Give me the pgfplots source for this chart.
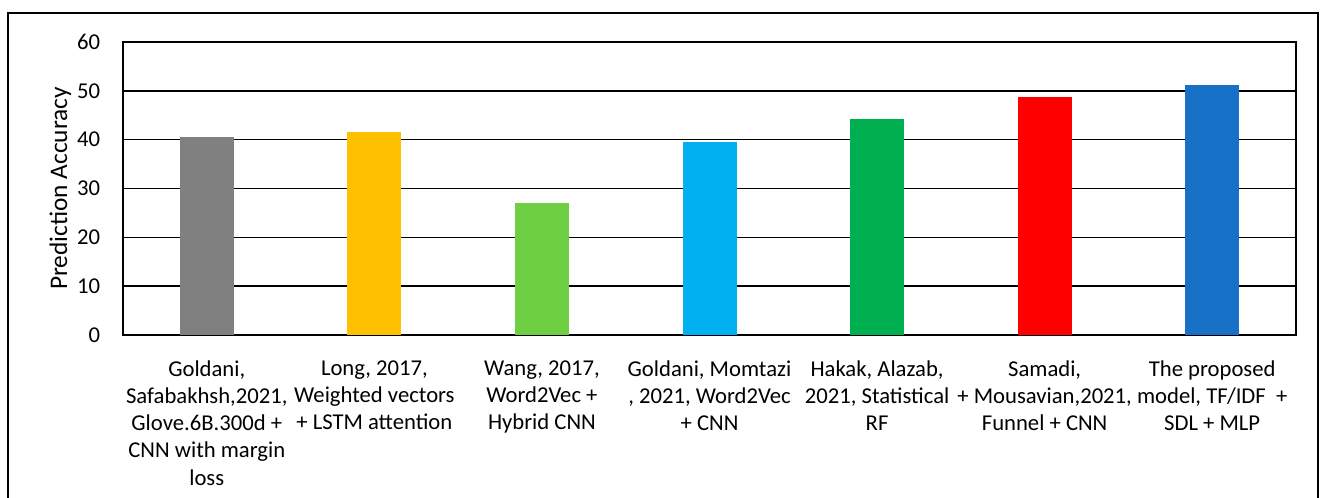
\documentclass[border=0pt]{standalone}
\usepackage{pgfplots}
\pgfplotsset{compat=1.18}
\usepackage{fontspec}
\setmainfont{Carlito}

\definecolor{cgray}{HTML}{808080}
\definecolor{cyellow}{HTML}{FFC000}
\definecolor{clgreen}{HTML}{6ECF43}
\definecolor{ccyan}{HTML}{00B0F0}
\definecolor{cgreen}{HTML}{00B050}
\definecolor{cred}{HTML}{FF0000}
\definecolor{cblue}{HTML}{1771C7}

\begin{document}
\begin{tikzpicture}
% page = reference image (1 px = 0.75 pt), origin at lower left of plot area
\useasboundingbox (-92.25pt,-122.25pt) rectangle (908.25pt,251.25pt);
\draw[line width=1.1pt] (-86.25pt,-140pt) -- (-86.25pt,241.5pt) -- (896.25pt,241.5pt) -- (896.25pt,-140pt);
\begin{axis}[
	scale only axis,
	width=879.75pt, height=219.75pt,
	xmin=-0.5, xmax=6.5,
	ymin=0, ymax=60,
	ytick={0,10,...,60},
	xtick={0,...,6},
	xticklabels={
		{Goldani,\\Safabakhsh,2021,\\Glove.6B.300d +\\CNN with margin\\loss},
		{Long, 2017,\\Weighted vectors\\+ LSTM attention},
		{Wang, 2017,\\Word2Vec +\\Hybrid CNN},
		{Goldani, Momtazi\\, 2021, Word2Vec\\+ CNN},
		{Hakak, Alazab,\\2021, Statistical\\RF},
		{Samadi,\\+ Mousavian,2021,\\Funnel + CNN},
		{The proposed\\model, TF/IDF~~+\\SDL + MLP}},
	xticklabel style={align=center, inner sep=0pt, yshift=-19pt, font=\fontsize{17}{20.4}\selectfont},
	yticklabel style={inner sep=0pt, xshift=-17pt, font=\fontsize{17}{20.4}\selectfont},
	/pgf/number format/assume math mode=true,
	major tick length=0pt,
	ymajorgrids,
	grid style={black, line width=1.2pt},
	axis line style={black, line width=1.2pt},
	ylabel={Prediction Accuracy},
	every axis y label/.style={at={(axis description cs:-0.0534,0.5)}, rotate=90, anchor=center, font=\fontsize{19}{22.8}\selectfont},
	ybar, bar width=40.5pt, bar shift=0pt,
	every axis plot/.append style={draw=none},
]
\addplot[fill=cgray] coordinates {(0,40.5)};
\addplot[fill=cyellow] coordinates {(1,41.5)};
\addplot[fill=clgreen] coordinates {(2,27.0)};
\addplot[fill=ccyan] coordinates {(3,39.5)};
\addplot[fill=cgreen] coordinates {(4,44.2)};
\addplot[fill=cred] coordinates {(5,48.7)};
\addplot[fill=cblue] coordinates {(6,51.1)};
\end{axis}
\end{tikzpicture}
\end{document}
